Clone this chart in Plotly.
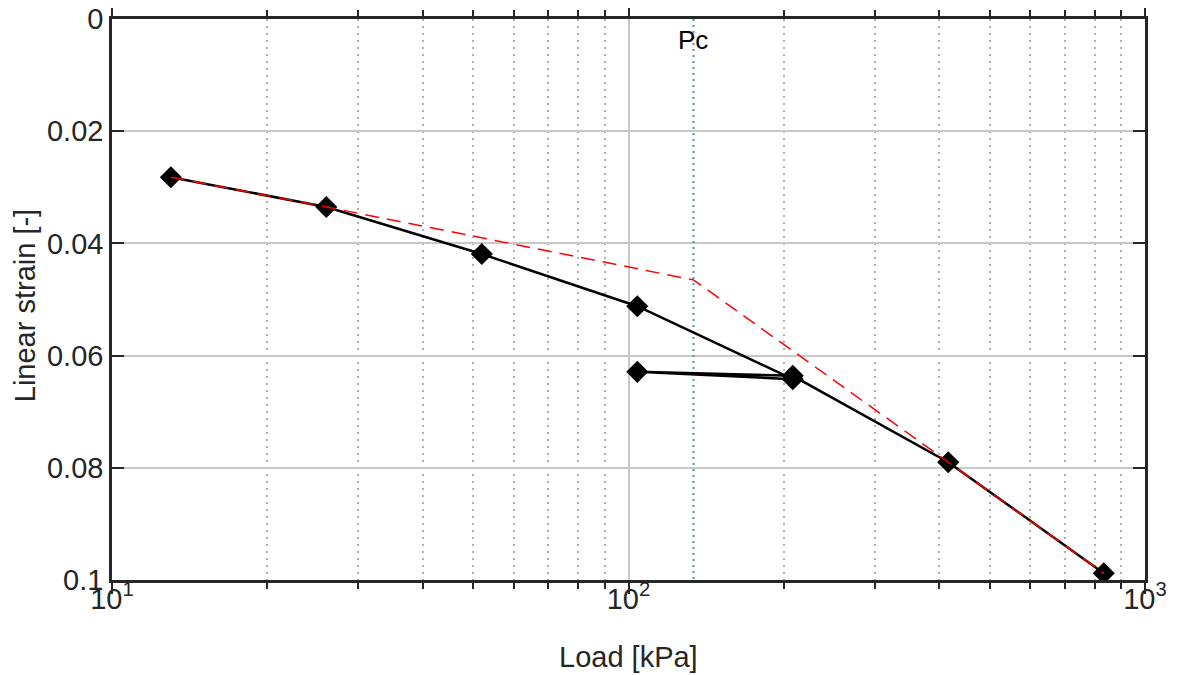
import plotly.graph_objects as go

# Measured oedometer data (load in kPa, linear strain)
load_kpa = [13, 26, 52, 104, 208, 104, 208, 416, 832]
strain = [0.0282, 0.0335, 0.0419, 0.0512, 0.0642, 0.0629, 0.0636, 0.0790, 0.0988]

# Corrected (red dashed) curve
corr_load = [13, 26, 133.6, 416, 832]
corr_strain = [0.0282, 0.0335, 0.0465, 0.0790, 0.0988]

# Preconsolidation pressure
pc_load = 133.6
pc_label = "Pc"

x_title = "Load [kPa]"
y_title = "Linear strain [-]"
x_tickvals = [10, 100, 1000]
x_ticktext = ["10<sup>1</sup>", "10<sup>2</sup>", "10<sup>3</sup>"]
x_minor_vals = [20, 30, 40, 50, 60, 70, 80, 90, 200, 300, 400, 500, 600, 700, 800, 900]
y_tickvals = [0, 0.02, 0.04, 0.06, 0.08, 0.1]
y_ticktext = ["0", "0.02", "0.04", "0.06", "0.08", "0.1"]

FONT = "Liberation Sans, Arial, Helvetica, sans-serif"
AX = "#262626"

fig = go.Figure()

# Pc vertical line
fig.add_trace(go.Scatter(
    x=[pc_load, pc_load], y=[0, 0.1], mode="lines",
    line=dict(color="#4a93c8", width=2, dash="2px,4px"),
    hoverinfo="skip", showlegend=False))

fig.add_trace(go.Scatter(
    x=load_kpa, y=strain, mode="lines+markers",
    line=dict(color="black", width=2.5),
    marker=dict(symbol="diamond", size=17, color="black"),
    showlegend=False))

fig.add_trace(go.Scatter(
    x=corr_load, y=corr_strain, mode="lines",
    line=dict(color="#ff0000", width=1.5, dash="14px,8px"),
    showlegend=False))

fig.add_annotation(x=2.1258, y=0.0037, xref="x", yref="y", text=pc_label,
                   showarrow=False, font=dict(family=FONT, size=26, color="black"))

# Axis titles as annotations (precise placement)
fig.add_annotation(x=0.5, y=-0.137, xref="paper", yref="paper", text=x_title,
                   showarrow=False, xanchor="center", yanchor="middle",
                   font=dict(family=FONT, size=29, color=AX))
fig.add_annotation(x=-0.0842, y=0.488, xref="paper", yref="paper", text=y_title,
                   showarrow=False, xanchor="center", yanchor="middle", textangle=-90,
                   font=dict(family=FONT, size=29, color=AX))

fig.update_layout(
    width=1177, height=675,
    margin=dict(l=104, r=40, t=11, b=103),
    paper_bgcolor="white", plot_bgcolor="white",
    font=dict(family=FONT, size=26, color=AX),
)

fig.update_xaxes(
    type="log", range=[1, 3], automargin=False,
    tickvals=x_tickvals, ticktext=x_ticktext, ticklabeloverflow="allow",
    ticklabelstandoff=-20,
    ticks="outside", ticklen=11, tickwidth=2, tickcolor=AX,
    showline=True, linewidth=2.5, linecolor=AX, mirror="ticks",
    showgrid=True, gridcolor="#c8c8c8", gridwidth=1.5,
    minor=dict(ticks="outside", ticklen=6, tickwidth=2, tickcolor=AX,
               showgrid=True, gridcolor="#b0b0b0", griddash="2px,5px", gridwidth=1.5,
               tickvals=x_minor_vals),
    tickfont=dict(family=FONT, size=29, color=AX),
    zeroline=False,
)

fig.update_yaxes(
    range=[0.1, 0], automargin=False,
    tickvals=y_tickvals, ticktext=y_ticktext, ticklabeloverflow="allow",
    ticks="inside", ticklen=12, tickwidth=2, tickcolor=AX,
    showline=True, linewidth=2.5, linecolor=AX, mirror="ticks",
    showgrid=True, gridcolor="#c8c8c8", gridwidth=1.5,
    tickfont=dict(family=FONT, size=29, color=AX),
    zeroline=False,
)

fig.write_html("out.html")
